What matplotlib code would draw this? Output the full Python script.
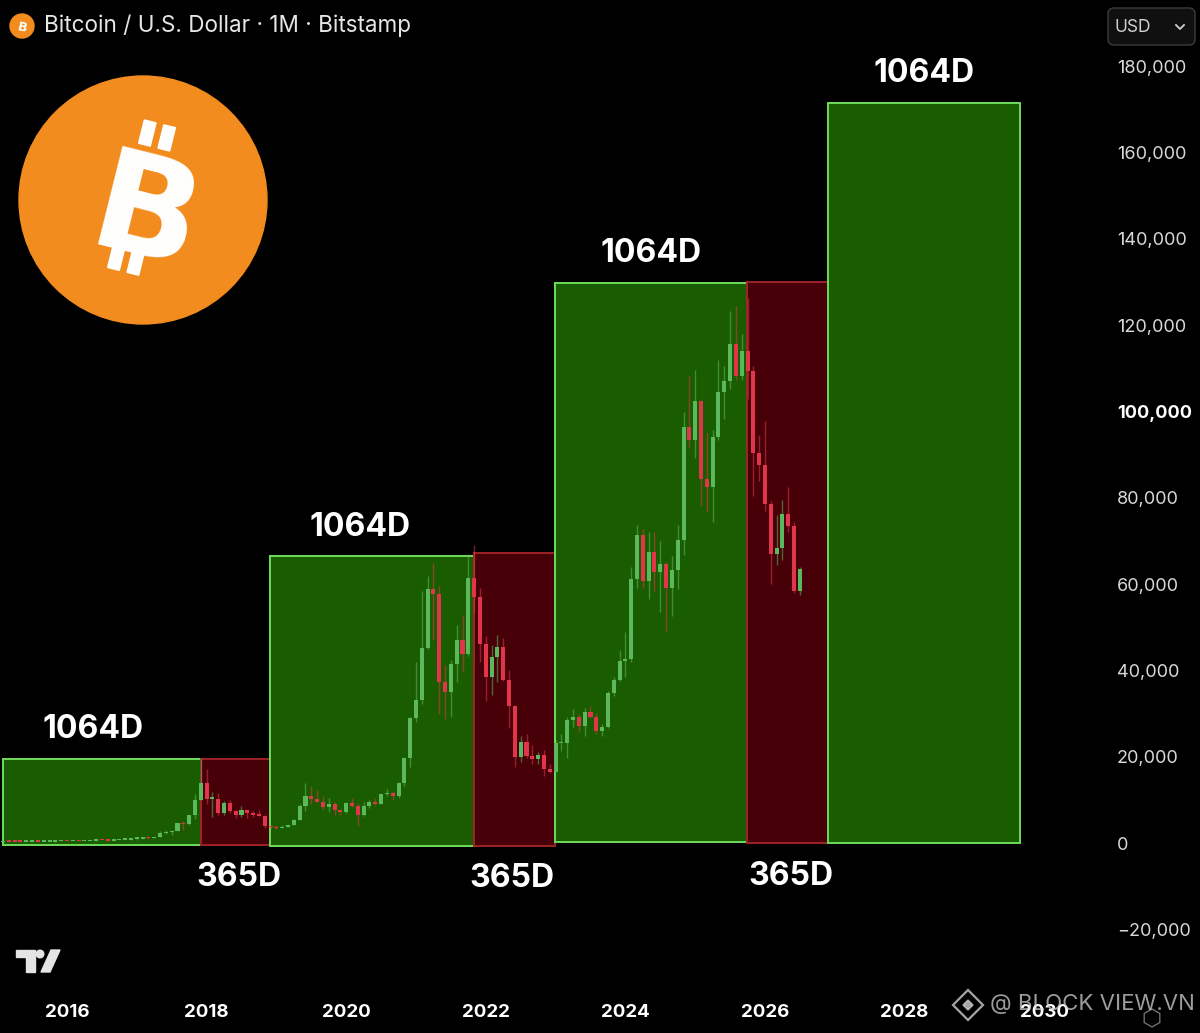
import numpy as np
import matplotlib.pyplot as plt
from matplotlib.patches import Rectangle, Circle, FancyBboxPatch, Polygon, RegularPolygon
from matplotlib.transforms import Affine2D

plt.rcParams['font.family'] = ['Inter', 'DejaVu Sans']

# monthly candles, Bitstamp BTC/USD, Jan 2015 .. Jul 2026
start_year = 2015
opens = [320, 217, 254, 244, 236, 230, 263, 284, 230, 236, 314, 377,
         430, 369, 437, 416, 448, 531, 673, 624, 575, 609, 700, 742,
         963, 970, 1190, 1080, 1350, 2300, 2480, 2875, 4700, 4340, 6450, 10000,
         13850, 10200, 10300, 6900, 9250, 7500, 6400, 7750, 7000, 6600, 6300, 4000,
         3700, 3440, 3800, 4100, 5300, 8550, 10800, 10100, 9600, 8300, 9150, 7550,
         7200, 9350, 8550, 6400, 8620, 9450, 9140, 11350, 11650, 10780, 13800, 19700,
         28950, 33100, 45200, 58800, 57700, 37300, 35000, 41500, 47100, 43800, 61300, 57000,
         46200, 38500, 43200, 45500, 37700, 31800, 19900, 23300, 20050, 19400, 20500, 17150,
         16550, 23100, 23150, 28470, 29250, 27200, 30470, 29230, 25940, 26970, 34660, 37720,
         42280, 42580, 61130, 71300, 60650, 67500, 62700, 64600, 59000, 63300, 70200, 96400,
         93400, 102400, 84300, 82500, 94200, 104600, 107100, 115700, 108200, 114000, 109500, 90400,
         87500, 78500, 66900, 68300, 76300, 73500, 58500]
highs = [320, 265, 300, 261, 247, 268, 315, 285, 245, 335, 500, 467,
         462, 444, 440, 467, 549, 777, 686, 630, 611, 720, 755, 979,
         1153, 1200, 1296, 1350, 2760, 3000, 2950, 4750, 5000, 6470, 11400, 19670,
         17200, 11800, 11700, 9750, 10000, 7760, 8500, 7760, 7400, 7700, 6570, 4240,
         4100, 4200, 4140, 5600, 9080, 13880, 13200, 12330, 10900, 10540, 9500, 7750,
         9590, 10500, 9190, 9450, 10070, 10430, 11440, 12470, 12090, 14100, 19900, 29300,
         41950, 58350, 61800, 64900, 59500, 41300, 42400, 50500, 52900, 67000, 69000, 59100,
         47900, 45800, 48200, 47400, 40000, 31900, 24700, 25200, 22800, 21000, 21500, 18400,
         23900, 25200, 29200, 31000, 29800, 31400, 31800, 30200, 27500, 35200, 38400, 44700,
         48970, 64000, 73800, 72800, 72000, 72000, 70000, 65100, 66500, 73600, 99800, 108300,
         109600, 102700, 95000, 95700, 111900, 110500, 123200, 124500, 117900, 126200, 110600, 94600,
         97800, 79300, 76000, 79500, 82500, 74500, 64000]
lows = [166, 212, 236, 214, 227, 220, 254, 200, 225, 235, 302, 348,
        355, 363, 393, 412, 443, 522, 598, 465, 568, 605, 683, 741,
        752, 915, 890, 1070, 1350, 2200, 1840, 2700, 2980, 4100, 5540, 10000,
        9000, 6000, 6500, 6400, 7000, 5750, 6100, 5880, 6100, 6200, 3500, 3150,
        3350, 3390, 3700, 4060, 5300, 7500, 9100, 9400, 7710, 7300, 6520, 6430,
        6860, 8400, 3850, 6150, 8120, 8900, 8980, 10900, 9890, 10400, 13200, 17600,
        28100, 32300, 45000, 47000, 30000, 28800, 29300, 37300, 39600, 43300, 53300, 42000,
        32950, 34300, 37200, 37600, 26700, 17600, 18800, 19600, 18200, 18200, 15500, 16300,
        16500, 21400, 19600, 26900, 25800, 24800, 28900, 25200, 24900, 26600, 34100, 37600,
        38500, 41900, 59000, 59200, 56500, 58400, 53500, 49000, 52500, 58900, 66800, 91500,
        89200, 78200, 76600, 74500, 93400, 98200, 105100, 107300, 107300, 103000, 80500, 84000,
        77000, 60000, 64500, 65500, 72000, 58000, 57500]
closes = opens[1:] + [63500]

# cycle boxes (decimal years / USD)
box_starts = [2015.08, 2017.92, 2018.91, 2021.83, 2022.99, 2025.74, 2026.90]
box_ends = [2017.92, 2018.91, 2021.83, 2022.99, 2025.74, 2026.90, 2029.65]
box_tops = [19500, 19500, 66500, 67300, 129800, 130000, 171500]
box_bottoms = [-450, -450, -600, -600, 200, 0, 0]
box_kinds = ['up', 'down', 'up', 'down', 'up', 'down', 'up']
box_labels = ['1064D', '365D', '1064D', '365D', '1064D', '365D', '1064D']

year_ticks = list(range(2016, 2031, 2))
price_ticks = list(range(-20000, 180001, 20000))

bg = '#000000'
up_col = '#5cb85c'
down_col = '#e0354a'

fig = plt.figure(figsize=(12, 10.33), dpi=100, facecolor=bg)
ax = fig.add_axes([0, 1 - 990 / 1033, 1085 / 1200, 940 / 1033])
ax.set_facecolor(bg)
ax.set_xlim(2015.040, 2030.585)
ax.set_ylim(-34067, 183777)

# boxes
for s, e, t, b, k in zip(box_starts, box_ends, box_tops, box_bottoms, box_kinds):
    if k == 'up':
        fc, ec = '#1a5c00', '#6fdc5a'
    else:
        fc, ec = '#470008', '#a0222a'
    ax.add_patch(Rectangle((s, b), e - s, t - b, facecolor=fc, edgecolor=ec, linewidth=1.4, zorder=1))

# label nudges in pixels, just to sit like the original
label_dx = [-9, 3, -12, -2, 0, 4, 0]
for s, e, t, b, k, lab, dx in zip(box_starts, box_ends, box_tops, box_bottoms, box_kinds, box_labels, label_dx):
    mid = (s + e) / 2
    if k == 'up':
        ax.annotate(lab, (mid, t), xytext=(dx, 29), textcoords='offset pixels', ha='center', va='center',
                    color='white', fontsize=23, fontweight='bold', zorder=5)
    else:
        ax.annotate(lab, (mid, b), xytext=(dx, -33), textcoords='offset pixels', ha='center', va='center',
                    color='white', fontsize=23, fontweight='bold', zorder=5)

# candles
o = np.array(opens, dtype=float)
h = np.array(highs, dtype=float)
l = np.array(lows, dtype=float)
c = np.array(closes, dtype=float)
x = start_year + np.arange(len(o)) / 12
cols = np.where(c >= o, up_col, down_col)
ax.vlines(x, l, h, colors=cols, linewidth=1, alpha=0.55, zorder=3)
body_lo = np.minimum(o, c)
body_h = np.maximum(np.abs(c - o), 350)
ax.bar(x, body_h, bottom=body_lo, width=0.058, color=cols, linewidth=0, zorder=4)

# axes / ticks
for sp in ax.spines.values():
    sp.set_visible(False)
ax.yaxis.tick_right()
ax.set_yticks(price_ticks)
ax.set_yticklabels([f'{v:,}'.replace('-', '\u2212') for v in price_ticks])
ax.tick_params(axis='y', length=0, pad=23, labelsize=13, labelcolor='#d8d8d8')
for lbl, v in zip(ax.get_yticklabels(), price_ticks):
    if v == 100000:
        lbl.set_fontweight('bold')
        lbl.set_color('white')
ax.set_xticks(year_ticks)
ax.set_xticklabels([str(y) for y in year_ticks])
ax.tick_params(axis='x', length=0, pad=10, labelsize=13.5, labelcolor='white')
for lbl in ax.get_xticklabels():
    lbl.set_fontweight('bold')
ax.grid(False)

# overlay in pixel coordinates (y down)
ov = fig.add_axes([0, 0, 1, 1])
ov.set_xlim(0, 1200)
ov.set_ylim(1033, 0)
ov.axis('off')
ov.patch.set_alpha(0)

orange = '#f28c1e'

# header
ov.add_patch(Circle((22, 26), 12, color=orange))
ov.text(22, 27.5, 'B', color='white', fontsize=9, fontweight='bold', ha='center', va='center',
        rotation=-14, family='DejaVu Sans')
ov.text(44, 26, 'Bitcoin / U.S. Dollar \u00b7 1M \u00b7 Bitstamp', color='#e6e6e6', fontsize=16.2,
        ha='left', va='center')

# USD selector
ov.add_patch(FancyBboxPatch((1108, 8), 87, 37, boxstyle='round,pad=0,rounding_size=6',
                            facecolor='#101010', edgecolor='#3c3c3c', linewidth=1))
ov.text(1115, 27, 'USD', color='#d0d0d0', fontsize=12.5, ha='left', va='center')
ov.plot([1176, 1180, 1184], [25, 29, 25], color='#d0d0d0', linewidth=1.3)

# big bitcoin logo
cx, cy = 143, 200
ov.add_patch(Circle((cx, cy), 124, color=orange, zorder=2))
ov.text(cx + 2, cy + 19, 'B', color='white', fontsize=100, fontweight='bold', ha='center', va='center',
        rotation=-14, family='DejaVu Sans', zorder=3)
rot = Affine2D().rotate_deg_around(cx, cy, 14) + ov.transData
for dx in (-12, 8):
    for y0 in (cy - 78, cy + 50):
        ov.add_patch(Rectangle((cx + dx - 6, y0), 12, 24, color='white', transform=rot, zorder=3))

# TradingView mark
tv = '#e4e4e4'
ov.add_patch(Polygon([(16, 950), (35, 950), (35, 972), (26, 972), (26, 957), (16, 957)], color=tv))
ov.add_patch(Circle((40, 954), 3.8, color=tv))
ov.add_patch(Polygon([(51, 950), (60, 950), (50, 972), (41, 972)], color=tv))

# watermark
ov.add_patch(RegularPolygon((968, 1005), 4, radius=15, fill=False, edgecolor='#cfcfcf', linewidth=1.6, alpha=0.8))
ov.add_patch(RegularPolygon((968, 1005), 4, radius=5, color='#cfcfcf', alpha=0.8))
ov.text(990, 1004, '@ BLOCK VIEW.VN', color='#d0d0d0', alpha=0.75, fontsize=16, ha='left', va='center')
ov.add_patch(RegularPolygon((1152, 1018), 6, radius=9, fill=False, edgecolor='#bbbbbb', linewidth=1, alpha=0.6))

fig.savefig('out.png', dpi=100, facecolor=bg)
